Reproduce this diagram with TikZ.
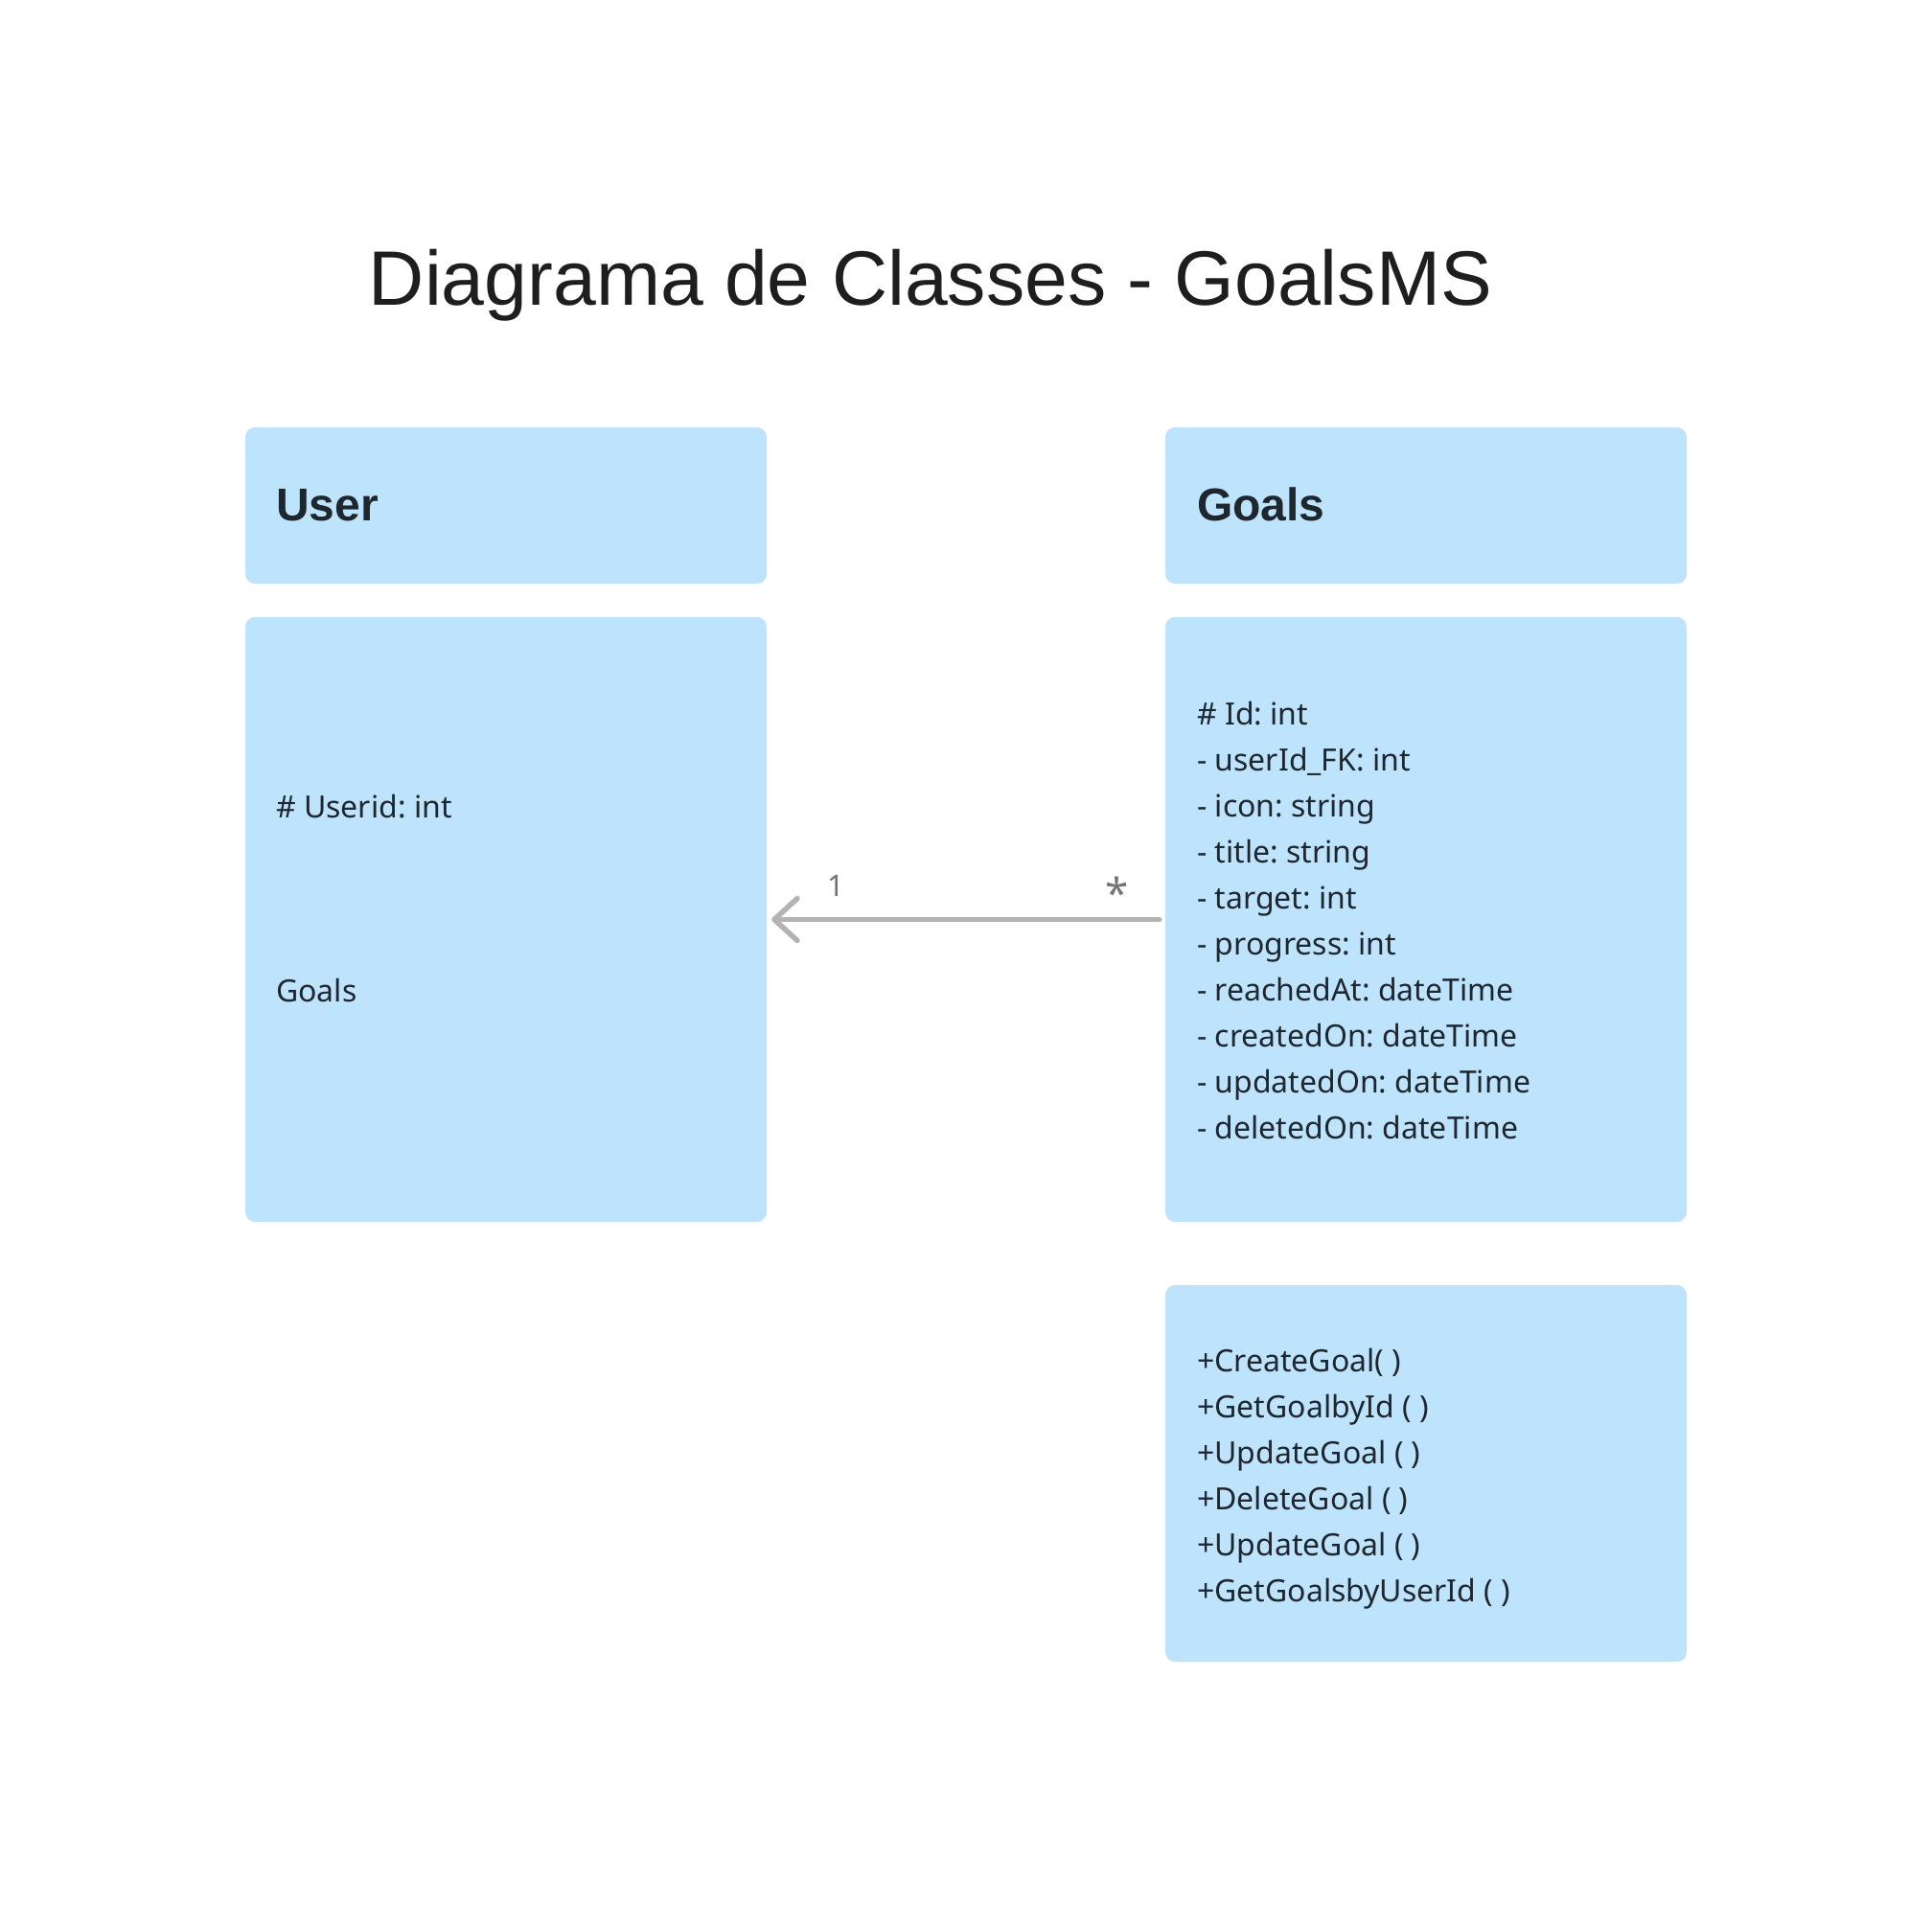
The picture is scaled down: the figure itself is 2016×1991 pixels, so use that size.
\documentclass[tikz,border=0pt]{standalone}
\usepackage{fontspec}
\setmainfont{Liberation Sans}
\newfontfamily\bodyfont{Noto Sans}
\usetikzlibrary{arrows.meta}
\definecolor{boxfill}{HTML}{BEE3FC}
\definecolor{inktext}{HTML}{1F272E}
\definecolor{titleink}{HTML}{1E1E1E}
\definecolor{linkgray}{HTML}{B3B3B3}
\definecolor{labelgray}{HTML}{757575}
\frenchspacing
\begin{document}
\begin{tikzpicture}[x=1pt,y=-1pt,
  classbox/.style={fill=boxfill, rounded corners=10pt, inner sep=0pt, draw=none, minimum width=544pt},
  headtext/.style={anchor=mid west, inner sep=0pt, text=inktext, font=\fontsize{48}{58}\selectfont\bfseries},
  bodytext/.style={anchor=west, inner sep=0pt, text=inktext, align=left, font=\bodyfont\fontsize{32}{48}\selectfont},
  multlabel/.style={inner sep=0pt, text=labelgray, font=\bodyfont\fontsize{31}{36}\selectfont}]
\useasboundingbox[fill=white] (0,0) rectangle (2016,1991);
\node[inner sep=0pt, text=titleink, font=\fontsize{80.5}{96}\selectfont] (title) at (971,298) {Diagrama de Classes - GoalsMS};
% User class
\node[classbox, minimum height=163pt] (userhead) at (528,527.5) {};
\node[classbox, minimum height=631pt] (userbody) at (528,959.5) {};
\node[headtext] (usertitle) at (288,541) {User};
\node[bodytext] (userid) at (288,842) {\# Userid: int};
\node[bodytext] (usergoals) at (288,1033) {Goals};
% Goals class
\node[classbox, minimum height=163pt] (goalshead) at (1488,527.5) {};
\node[classbox, minimum height=631pt] (goalsbody) at (1488,959.5) {};
\node[classbox, minimum height=393pt] (goalsops) at (1488,1537.5) {};
\node[headtext] (goalstitle) at (1249,541) {Goals};
\node[bodytext] (goalsattrs) at (1249,961) {\# Id: int\\- userId\_FK: int\\- icon: string\\- title: string\\- target: int\\- progress: int\\- reachedAt: dateTime\\- createdOn: dateTime\\- updatedOn: dateTime\\- deletedOn: dateTime};
\node[bodytext] (goalsmethods) at (1249,1543) {+CreateGoal( )\\+GetGoalbyId ( )\\+UpdateGoal ( )\\+DeleteGoal ( )\\+UpdateGoal ( )\\+GetGoalsbyUserId ( )};
% association
\draw[linkgray, line width=5.5pt, line cap=round, -{Straight Barb[length=24pt,width=44pt,line cap=round,line join=round]}, shorten >=5pt, shorten <=6pt] (goalsbody.west) -- (userbody.east);
\node[multlabel] (multone) at (872,924) {1};
\node[multlabel, font=\bodyfont\fontsize{44}{44}\selectfont\bfseries] (multmany) at (1166,932) {*};
\end{tikzpicture}
\end{document}
